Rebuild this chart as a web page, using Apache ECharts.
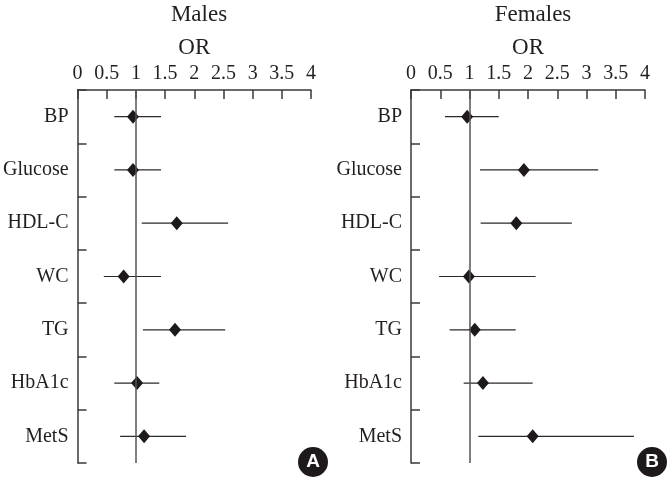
<!DOCTYPE html>
<html>
<head>
<meta charset="utf-8">
<script src="https://cdn.jsdelivr.net/npm/echarts@6/dist/echarts.min.js"></script>
<style>html,body{margin:0;padding:0;background:#fff;}#c{width:668px;height:479px;}</style>
</head>
<body>
<div id="c"></div>
<script>
const categories = ['BP', 'Glucose', 'HDL-C', 'WC', 'TG', 'HbA1c', 'MetS'];
const xTicks = [0, 0.5, 1, 1.5, 2, 2.5, 3, 3.5, 4];

const malesOR    = [0.95, 0.95, 1.70, 0.79, 1.67, 1.02, 1.14];
const malesLow   = [0.63, 0.63, 1.10, 0.45, 1.12, 0.63, 0.73];
const malesHigh  = [1.43, 1.43, 2.58, 1.43, 2.53, 1.40, 1.86];

const femalesOR   = [0.96, 1.93, 1.80, 0.99, 1.09, 1.23, 2.08];
const femalesLow  = [0.58, 1.18, 1.19, 0.48, 0.66, 0.90, 1.15];
const femalesHigh = [1.50, 3.20, 2.75, 2.13, 1.79, 2.08, 3.81];

const panelTitles = ['Males', 'Females'];
const badges = ['A', 'B'];

const FONT = 'Liberation Serif';
const TXT = '#231f20';
const AX = '#3a3a3a';

const chart = echarts.init(document.getElementById('c'));

const grids = [
  {left: 77, top: 90, width: 234, height: 373},
  {left: 411, top: 90, width: 234, height: 373}
];

function xAxisFor(i) {
  return {
    gridIndex: i, type: 'value', position: 'top',
    min: 0, max: 4, interval: 0.5,
    name: 'OR', nameLocation: 'middle', nameGap: 31,
    nameTextStyle: {fontFamily: FONT, fontSize: 23, color: TXT},
    axisLine: {show: true, lineStyle: {color: AX, width: 1.5}},
    axisTick: {show: true, inside: true, length: 9, lineStyle: {color: AX, width: 1.5}},
    axisLabel: {fontFamily: FONT, fontSize: 20, color: TXT, margin: 6,
      formatter: v => xTicks.indexOf(v) >= 0 ? String(v) : ''},
    splitLine: {show: false}
  };
}
function yAxisFor(i) {
  return {
    gridIndex: i, type: 'category', data: categories, inverse: true,
    boundaryGap: true,
    axisLine: {show: true, lineStyle: {color: AX, width: 1.5}},
    axisTick: {show: true, inside: true, length: 9, lineStyle: {color: AX, width: 1.5}},
    axisLabel: {fontFamily: FONT, fontSize: 20, color: TXT, margin: 9},
    splitLine: {show: false}
  };
}

function errData(lo, hi) { return lo.map((l, k) => [l, hi[k], k]); }
function ptData(or) { return or.map((v, k) => [v, categories[k]]); }

function errSeries(i, lo, hi) {
  return {
    type: 'custom', xAxisIndex: i, yAxisIndex: i, silent: true,
    data: errData(lo, hi), encode: {x: [0, 1], y: 2},
    renderItem: function (params, api) {
      const y = api.value(2);
      const p1 = api.coord([api.value(0), y]);
      const p2 = api.coord([api.value(1), y]);
      return {type: 'line', shape: {x1: p1[0], y1: p1[1], x2: p2[0], y2: p2[1]},
        style: {stroke: '#2a2a2a', lineWidth: 1.2}};
    },
    z: 3
  };
}
function ptSeries(i, or) {
  return {
    type: 'scatter', xAxisIndex: i, yAxisIndex: i, silent: true,
    data: ptData(or), symbol: 'diamond', symbolSize: [12, 14],
    itemStyle: {color: '#1e1a1b', opacity: 1},
    markLine: {silent: true, symbol: 'none', label: {show: false},
      lineStyle: {color: '#555', width: 1.5, type: 'solid', opacity: 1},
      data: [{xAxis: 1}]},
    z: 4
  };
}

chart.setOption({
  animation: false,
  backgroundColor: '#fff',
  title: [
    {text: panelTitles[0], left: 194, top: -2, textAlign: 'center',
      textStyle: {fontFamily: FONT, fontSize: 23, fontWeight: 'normal', color: TXT}},
    {text: panelTitles[1], left: 528, top: -2, textAlign: 'center',
      textStyle: {fontFamily: FONT, fontSize: 23, fontWeight: 'normal', color: TXT}}
  ],
  grid: grids,
  xAxis: [xAxisFor(0), xAxisFor(1)],
  yAxis: [yAxisFor(0), yAxisFor(1)],
  series: [
    errSeries(0, malesLow, malesHigh), ptSeries(0, malesOR),
    errSeries(1, femalesLow, femalesHigh), ptSeries(1, femalesOR)
  ],
  graphic: [
    {type: 'circle', shape: {cx: 313, cy: 462, r: 15}, style: {fill: '#1e1a1b'}},
    {type: 'text', x: 313, y: 462, style: {text: badges[0], fill: '#fff', font: 'bold 19px "Liberation Sans", Arial, sans-serif', align: 'center', verticalAlign: 'middle'}},
    {type: 'circle', shape: {cx: 652, cy: 462, r: 15}, style: {fill: '#1e1a1b'}},
    {type: 'text', x: 652, y: 462, style: {text: badges[1], fill: '#fff', font: 'bold 19px "Liberation Sans", Arial, sans-serif', align: 'center', verticalAlign: 'middle'}}
  ]
});
</script>
</body>
</html>
